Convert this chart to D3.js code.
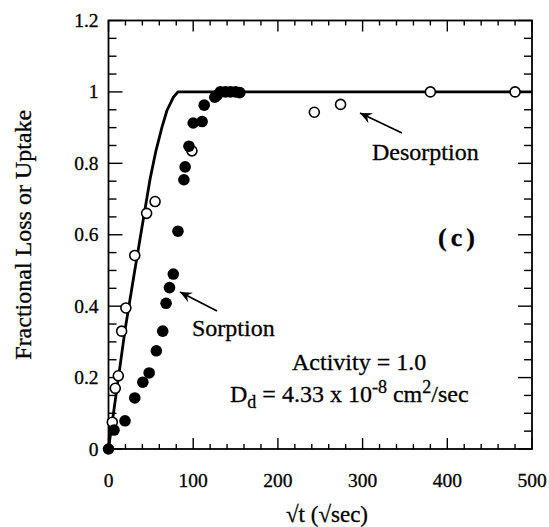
<!DOCTYPE html>
<html>
<head>
<meta charset="utf-8">
<script src="https://cdn.jsdelivr.net/npm/d3@7"></script>
<style>
  html, body { margin: 0; padding: 0; background: #fff; }
  svg { display: block; font-family: "Liberation Serif", "Times New Roman", serif; }
  svg text { fill: #000; stroke: #000; stroke-width: 0.3px; }
</style>
</head>
<body>
<svg id="chart" width="549" height="527"></svg>
<script>
// Sorption (filled) and desorption (open) fractional uptake/loss vs sqrt(t)
const sorptionX = [0, 6.5, 19.5, 31, 40.5, 48, 56.5, 64, 68, 72, 76.5, 82, 89, 90.5, 95, 100, 110.5, 113, 125.5, 128, 132, 138, 144, 150, 155];
const sorptionY = [0, 0.053, 0.079, 0.143, 0.187, 0.213, 0.275, 0.33, 0.408, 0.452, 0.49, 0.61, 0.754, 0.79, 0.848, 0.913, 0.917, 0.963, 0.985, 0.99, 1.0, 1.0, 1.0, 1.0, 0.998];
const desorptionX = [4.5, 8, 11.6, 15.5, 20.5, 31, 45, 55, 98.5, 243, 274, 380, 480];
const desorptionY = [0.075, 0.17, 0.205, 0.33, 0.395, 0.542, 0.66, 0.693, 0.835, 0.943, 0.965, 1.0, 1.0];
// Model curve for D = 4.33e-8 cm2/sec
const modelX = [0, 19.5, 31, 43, 49, 56, 63, 69, 76.5, 82, 500];
const modelY = [0, 0.333, 0.5, 0.67, 0.755, 0.835, 0.9, 0.948, 0.985, 1.0, 1.0];
const xTicks = [0, 100, 200, 300, 400, 500];
const yTicks = [0, 0.2, 0.4, 0.6, 0.8, 1, 1.2];

const svg = d3.select("#chart");
const mLeft = 108.5, mRight = 532, mTop = 20.5, mBottom = 449;
const x = d3.scaleLinear().domain([0, 500]).range([mLeft, mRight]);
const y = d3.scaleLinear().domain([0, 1.2]).range([mBottom, mTop]);

const tickFont = 19.5;

// frame
svg.append("rect").attr("x", mLeft).attr("y", mTop)
  .attr("width", mRight - mLeft).attr("height", mBottom - mTop)
  .attr("fill", "none").attr("stroke", "#000").attr("stroke-width", 1.8);

// inward ticks on all four sides
const xMinor = d3.range(0, 501, 20);
const yMinor = d3.range(0, 1.2001, 0.05);
const tk = svg.append("g").attr("stroke", "#000").attr("stroke-width", 1.4);
xMinor.forEach(v => {
  const major = Math.abs(v % 100) < 1e-6;
  const len = major ? 11 : 5;
  tk.append("line").attr("x1", x(v)).attr("x2", x(v)).attr("y1", mBottom).attr("y2", mBottom - len);
  tk.append("line").attr("x1", x(v)).attr("x2", x(v)).attr("y1", mTop).attr("y2", mTop + len);
});
yMinor.forEach(v => {
  const major = Math.round(v * 100) % 20 === 0;
  const len = major ? 14 : 8;
  tk.append("line").attr("y1", y(v)).attr("y2", y(v)).attr("x1", mLeft).attr("x2", mLeft + len);
  tk.append("line").attr("y1", y(v)).attr("y2", y(v)).attr("x1", mRight).attr("x2", mRight - len);
});

// tick labels
svg.append("g").selectAll("text").data(xTicks).join("text")
  .attr("x", d => x(d)).attr("y", 487)
  .attr("text-anchor", "middle").attr("font-size", tickFont)
  .text(d => d);
svg.append("g").selectAll("text").data(yTicks).join("text")
  .attr("x", mLeft - 10).attr("y", d => y(d) + 6.5)
  .attr("text-anchor", "end").attr("font-size", tickFont)
  .text(d => d3.format("")(d));

// axis titles
svg.append("text").attr("x", 327).attr("y", 522).attr("text-anchor", "middle")
  .attr("font-size", 23).text("\u221At (\u221Asec)");
svg.append("text").attr("transform", "translate(31," + ((mTop + mBottom) / 2) + ") rotate(-90)")
  .attr("text-anchor", "middle").attr("font-size", 24).text("Fractional Loss or Uptake");

// model curve
const line = d3.line().x(d => x(d[0])).y(d => y(d[1]));
svg.append("path").datum(d3.zip(modelX, modelY)).attr("d", line)
  .attr("fill", "none").attr("stroke", "#000").attr("stroke-width", 2.8)
  .attr("stroke-linejoin", "round");

// desorption points (open)
svg.append("g").selectAll("circle").data(d3.zip(desorptionX, desorptionY)).join("circle")
  .attr("cx", d => x(d[0])).attr("cy", d => y(d[1])).attr("r", 5)
  .attr("fill", "#fff").attr("stroke", "#000").attr("stroke-width", 1.6);

// sorption points (filled)
svg.append("g").selectAll("circle").data(d3.zip(sorptionX, sorptionY)).join("circle")
  .attr("cx", d => x(d[0])).attr("cy", d => y(d[1])).attr("r", 5.8)
  .attr("fill", "#000");

// annotations
const ann = 24;
svg.append("text").attr("x", 372).attr("y", 160).attr("font-size", ann).text("Desorption");
svg.append("text").attr("x", 192).attr("y", 336).attr("font-size", ann).text("Sorption");
svg.append("text").attr("x", 438).attr("y", 246).attr("font-size", 26)
  .attr("font-weight", "bold").attr("letter-spacing", 4).text("(c)");
svg.append("text").attr("x", 292).attr("y", 370).attr("font-size", ann).text("Activity = 1.0");

const dd = svg.append("text").attr("x", 230).attr("y", 402).attr("font-size", ann);
dd.append("tspan").text("D");
dd.append("tspan").attr("font-size", 18).attr("dy", 6).text("d");
dd.append("tspan").attr("dy", -6).text(" = 4.33 x 10");
dd.append("tspan").attr("font-size", 18).attr("dy", -9).text("-8");
dd.append("tspan").attr("dy", 9).text(" cm");
dd.append("tspan").attr("font-size", 18).attr("dy", -9).text("2");
dd.append("tspan").attr("dy", 9).text("/sec");

// arrows
function arrow(x1, y1, x2, y2) {
  svg.append("line").attr("x1", x1).attr("y1", y1).attr("x2", x2).attr("y2", y2)
    .attr("stroke", "#000").attr("stroke-width", 1.8);
  const a = Math.atan2(y2 - y1, x2 - x1), L = 13, w = 0.42;
  const p = [[x2, y2],
    [x2 - L * Math.cos(a - w), y2 - L * Math.sin(a - w)],
    [x2 - L * 0.6 * Math.cos(a), y2 - L * 0.6 * Math.sin(a)],
    [x2 - L * Math.cos(a + w), y2 - L * Math.sin(a + w)]];
  svg.append("path").attr("d", "M" + p.map(q => q.join(",")).join("L") + "Z").attr("fill", "#000");
}
arrow(217, 311, 180, 292);
arrow(402, 133, 360, 113);
</script>
</body>
</html>
